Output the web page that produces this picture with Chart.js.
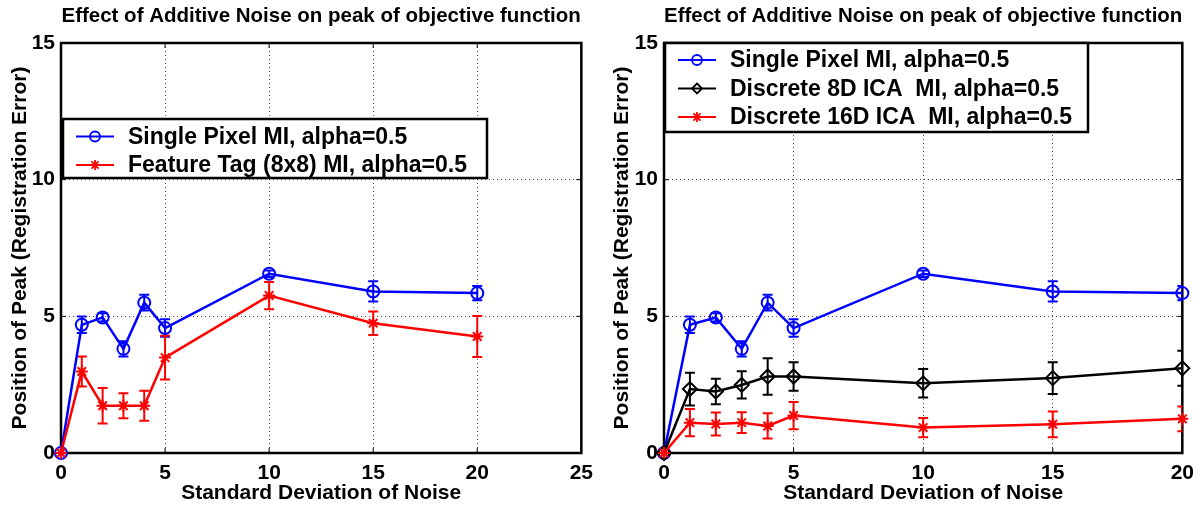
<!DOCTYPE html>
<html>
<head>
<meta charset="utf-8">
<script src="https://cdn.jsdelivr.net/npm/chart.js@4/dist/chart.umd.min.js"></script>
<style>
	body { margin: 0; background: #fff; }
	.panel { position: absolute; top: 0; width: 601px; height: 506px; }
</style>
</head>
<body>
<div class="panel" style="left:0"><canvas id="leftChart" width="601" height="506"></canvas></div>
<div class="panel" style="left:601px"><canvas id="rightChart" width="601" height="506"></canvas></div>
<script>
const noiseLevels = [0, 1, 2, 3, 4, 5, 10, 15, 20];

const singlePixel = [0, 4.69, 4.96, 3.81, 5.5, 4.57, 6.56, 5.91, 5.85];
const singlePixelErr = [0, 0.3, 0.15, 0.28, 0.29, 0.32, 0.12, 0.37, 0.26];

const featureTag = [0, 2.98, 1.73, 1.73, 1.73, 3.49, 5.76, 4.75, 4.26];
const featureTagErr = [0, 0.55, 0.65, 0.46, 0.55, 0.8, 0.5, 0.43, 0.75];

const ica8 = [0, 2.34, 2.25, 2.49, 2.8, 2.8, 2.55, 2.74, 3.1];
const ica8Err = [0, 0.6, 0.47, 0.5, 0.67, 0.52, 0.52, 0.58, 0.64];

const ica16 = [0, 1.11, 1.06, 1.11, 0.99, 1.37, 0.93, 1.05, 1.25];
const ica16Err = [0, 0.5, 0.42, 0.38, 0.46, 0.5, 0.35, 0.47, 0.45];

const yTicks = [0, 5, 10, 15];
const chartTitle = 'Effect of Additive Noise on peak of objective function';
const xTitle = 'Standard Deviation of Noise';
const yTitle = 'Position of Peak (Registration Error)';

Chart.defaults.font.family = '"Liberation Sans", Arial, sans-serif';
Chart.defaults.color = '#000';

const toPoints = (values) => values.map((v, i) => ({ x: noiseLevels[i], y: v }));

const makeSeries = (label, values, errors, color, pointStyle, radius, order) => ({
	label,
	data: toPoints(values),
	errors,
	borderColor: color,
	backgroundColor: 'rgba(0,0,0,0)',
	borderWidth: 2.5,
	pointStyle,
	pointRadius: radius,
	pointBorderWidth: 2,
	pointBorderColor: color,
	pointBackgroundColor: 'rgba(0,0,0,0)',
	tension: 0,
	clip: false,
	order,
});

// vertical error bars with caps, clipped to the axes box
const errorBars = {
	id: 'errorBars',
	beforeDatasetsDraw(chart) {
		const { ctx, chartArea, scales } = chart;
		ctx.save();
		ctx.beginPath();
		ctx.rect(chartArea.left, chartArea.top, chartArea.width, chartArea.height);
		ctx.clip();
		chart.data.datasets.forEach((ds) => {
			if (!ds.errors) return;
			ctx.strokeStyle = ds.borderColor;
			ctx.lineWidth = 2;
			ds.data.forEach((pt, i) => {
				const e = ds.errors[i];
				if (!e) return;
				const px = scales.x.getPixelForValue(pt.x);
				const top = scales.y.getPixelForValue(pt.y + e);
				const bot = scales.y.getPixelForValue(pt.y - e);
				ctx.beginPath();
				ctx.moveTo(px, top);
				ctx.lineTo(px, bot);
				ctx.moveTo(px - 5, top);
				ctx.lineTo(px + 5, top);
				ctx.moveTo(px - 5, bot);
				ctx.lineTo(px + 5, bot);
				ctx.stroke();
			});
		});
		ctx.restore();
	},
};

// box around the axes plus short inward tick marks on all four sides
const axesBox = {
	id: 'axesBox',
	beforeDatasetsDraw(chart) {
		const { ctx, chartArea: a, scales } = chart;
		ctx.save();
		ctx.strokeStyle = '#000';
		ctx.lineWidth = 1;
		ctx.beginPath();
		scales.x.ticks.forEach((t) => {
			const px = scales.x.getPixelForValue(t.value);
			ctx.moveTo(px, a.bottom);
			ctx.lineTo(px, a.bottom - 5);
			ctx.moveTo(px, a.top);
			ctx.lineTo(px, a.top + 5);
		});
		scales.y.ticks.forEach((t) => {
			const py = scales.y.getPixelForValue(t.value);
			ctx.moveTo(a.left, py);
			ctx.lineTo(a.left + 5, py);
			ctx.moveTo(a.right, py);
			ctx.lineTo(a.right - 5, py);
		});
		ctx.stroke();
		ctx.lineWidth = 2.5;
		ctx.strokeRect(a.left, a.top, a.right - a.left, a.bottom - a.top);
		ctx.restore();
	},
};

const drawMarker = (ctx, style, x, y, r) => {
	ctx.beginPath();
	if (style === 'circle') {
		ctx.arc(x, y, r, 0, Math.PI * 2);
	} else if (style === 'rectRot') {
		ctx.moveTo(x, y - r);
		ctx.lineTo(x + r, y);
		ctx.lineTo(x, y + r);
		ctx.lineTo(x - r, y);
		ctx.closePath();
	} else if (style === 'star') {
		const d = r * Math.SQRT1_2;
		ctx.moveTo(x - r, y); ctx.lineTo(x + r, y);
		ctx.moveTo(x, y - r); ctx.lineTo(x, y + r);
		ctx.moveTo(x - d, y - d); ctx.lineTo(x + d, y + d);
		ctx.moveTo(x - d, y + d); ctx.lineTo(x + d, y - d);
	}
	ctx.stroke();
};

// boxed legend placed inside the axes
const boxLegend = {
	id: 'boxLegend',
	afterDraw(chart, args, opts) {
		const { ctx } = chart;
		const items = chart.data.datasets;
		ctx.save();
		ctx.fillStyle = '#fff';
		ctx.fillRect(opts.x, opts.y, opts.w, opts.h);
		ctx.strokeStyle = '#000';
		ctx.lineWidth = 2.5;
		ctx.strokeRect(opts.x, opts.y, opts.w, opts.h);
		ctx.font = 'bold 23px "Liberation Sans", Arial, sans-serif';
		ctx.textBaseline = 'middle';
		items.forEach((ds, i) => {
			const cy = opts.y + opts.firstRow + i * opts.rowGap;
			ctx.strokeStyle = ds.borderColor;
			ctx.lineWidth = 2;
			ctx.beginPath();
			ctx.moveTo(opts.x + 13, cy);
			ctx.lineTo(opts.x + 51, cy);
			ctx.stroke();
			ctx.lineWidth = 1.8;
			drawMarker(ctx, ds.pointStyle, opts.x + 32, cy, 5);
			ctx.fillStyle = '#000';
			ctx.fillText(ds.label, opts.x + 65, cy + 1);
		});
		ctx.restore();
	},
};

const makeOptions = (xMax, yAxisWidth, yTitlePad, legend) => ({
	responsive: false,
	animation: false,
	devicePixelRatio: 1,
	layout: { padding: { left: 0, right: 19, top: 0, bottom: 0 } },
	plugins: {
		legend: { display: false },
		tooltip: { enabled: false },
		title: {
			display: true,
			text: chartTitle,
			fullSize: false,
			font: { size: 20.5, weight: 'bold' },
			padding: { top: 4, bottom: 14.4 },
		},
		boxLegend: legend,
	},
	scales: {
		x: {
			type: 'linear',
			min: 0,
			max: xMax,
			afterFit: (scale) => { scale.height = 53; },
			ticks: { stepSize: 5, padding: 8, font: { size: 21, weight: 'bold' } },
			grid: { color: 'rgba(0,0,0,0.7)', lineWidth: 1, drawTicks: false },
			border: { display: false, dash: [1, 3] },
			title: {
				display: true,
				text: xTitle,
				font: { size: 21, weight: 'bold' },
				padding: { top: 0, bottom: 0.5 },
			},
		},
		y: {
			type: 'linear',
			min: 0,
			max: 15,
			afterFit: (scale) => { scale.width = yAxisWidth; },
			afterBuildTicks: (scale) => { scale.ticks = yTicks.map((v) => ({ value: v })); },
			ticks: { padding: 6, font: { size: 21, weight: 'bold' } },
			grid: { color: 'rgba(0,0,0,0.7)', lineWidth: 1, drawTicks: false },
			border: { display: false, dash: [1, 3] },
			title: {
				display: true,
				text: yTitle,
				font: { size: 21, weight: 'bold' },
				padding: { top: yTitlePad, bottom: 0 },
			},
		},
	},
});

new Chart(document.getElementById('leftChart'), {
	type: 'line',
	data: {
		datasets: [
			makeSeries('Single Pixel MI, alpha=0.5', singlePixel, singlePixelErr, '#0000ff', 'circle', 6, 2),
			makeSeries('Feature Tag (8x8) MI, alpha=0.5', featureTag, featureTagErr, '#ff0000', 'star', 6, 1),
		],
	},
	options: makeOptions(25, 61, 7.4, { x: 63, y: 119, w: 424, h: 59, firstRow: 17.5, rowGap: 28.5 }),
	plugins: [axesBox, errorBars, boxLegend],
});

new Chart(document.getElementById('rightChart'), {
	type: 'line',
	data: {
		datasets: [
			makeSeries('Single Pixel MI, alpha=0.5', singlePixel, singlePixelErr, '#0000ff', 'circle', 6, 3),
			makeSeries('Discrete 8D ICA  MI, alpha=0.5', ica8, ica8Err, '#000000', 'rectRot', 7, 2),
			makeSeries('Discrete 16D ICA  MI, alpha=0.5', ica16, ica16Err, '#ff0000', 'star', 6, 1),
		],
	},
	options: makeOptions(20, 63, 8.4, { x: 64, y: 43, w: 423, h: 89, firstRow: 17, rowGap: 28.5 }),
	plugins: [axesBox, errorBars, boxLegend],
});
</script>
</body>
</html>
